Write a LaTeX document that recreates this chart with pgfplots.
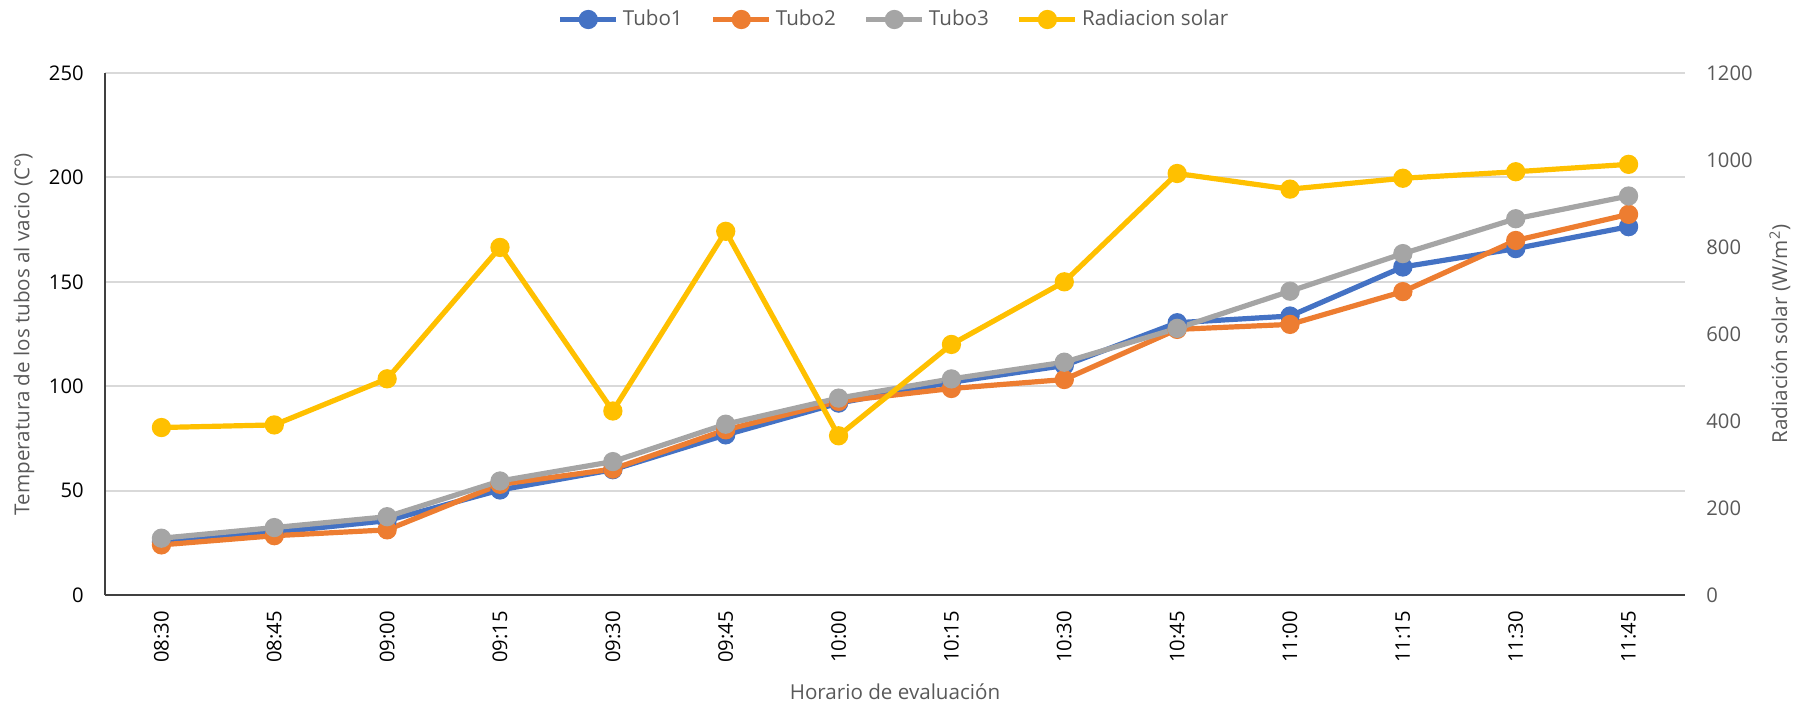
\documentclass[border=0pt]{standalone}
\usepackage{fontspec}
\setmainfont{Open Sans}
\usepackage{pgfplots}
\pgfplotsset{compat=1.18}
\definecolor{c1}{HTML}{4472C4}
\definecolor{c2}{HTML}{ED7D31}
\definecolor{c3}{HTML}{A5A5A5}
\definecolor{c4}{HTML}{FFC000}
\definecolor{gridc}{HTML}{D9D9D9}
\definecolor{txt}{HTML}{595959}
\definecolor{axc}{HTML}{404040}
\newcommand{\fsT}{\fontsize{10.1}{12.2}\selectfont}
\newcommand{\fsL}{\fontsize{10.3}{12.4}\selectfont}
\newcommand{\fsG}{\fontsize{10.3}{12.4}\selectfont}

\begin{document}
\begin{tikzpicture}
\pgfplotsset{
  base/.style={
    scale only axis, width=790pt, height=261pt, at={(0,0)}, anchor=south west,
    xmin=-0.5, xmax=13.5,
    major tick length=0pt,
    /pgf/number format/assume math mode=true,
    /pgf/number format/1000 sep={},
    tick label style={font=\fsT, inner sep=0pt},
    label style={font=\fsL, text=txt},
    every axis plot/.append style={line width=2.6pt, mark=*, mark size=3.5pt},
  },
}
\path[use as bounding box] (-52.5pt,-56pt) rectangle (846.5pt,297.5pt);
\begin{axis}[base,
  ymin=0, ymax=250, ytick={0,50,...,250},
  xtick={0,...,13},
  xticklabels={08:30,08:45,09:00,09:15,09:30,09:45,10:00,10:15,10:30,10:45,11:00,11:15,11:30,11:45},
  xticklabel style={rotate=90, anchor=east},
  xticklabel shift=8pt, yticklabel shift=10.5pt,
  axis x line*=bottom, axis y line*=left,
  axis line style={draw=axc, line width=1pt},
  ymajorgrids, grid style={gridc, line width=1pt},
  xlabel={Horario de evaluación},
  xlabel style={at={(axis description cs:0.5,-0.186)}, anchor=center},
  ylabel={Temperatura de los tubos al vacio (C°)},
  ylabel style={at={(axis description cs:-0.0513,0.5)}, anchor=center, rotate=0},
  legend style={font=\fsG, text=txt, draw=none, fill=none, at={(axis description cs:0.50,1.1025)}, anchor=center, legend columns=4,
    /tikz/every even column/.append style={column sep=12pt}},
  legend image code/.code={\draw[#1, mark repeat=2, mark phase=2] plot coordinates {(0pt,0pt) (14pt,0pt) (28pt,0pt)};},
]
\addplot[c1, mark options={fill=c1}] coordinates {(0,25.5) (1,30) (2,35.6) (3,50.3) (4,60) (5,76.7) (6,91.9) (7,101.9) (8,109.9) (9,130.4) (10,133.6) (11,157.1) (12,165.9) (13,176.4)};
\addplot[c2, mark options={fill=c2}] coordinates {(0,24.0) (1,28.4) (2,31.2) (3,53) (4,60.3) (5,79.1) (6,92.7) (7,98.9) (8,103.2) (9,127.2) (10,129.6) (11,145.3) (12,169.8) (13,182.3)};
\addplot[c3, mark options={fill=c3}] coordinates {(0,27.2) (1,32.3) (2,37.5) (3,54.6) (4,63.9) (5,81.8) (6,94.3) (7,103.5) (8,111.5) (9,127.7) (10,145.5) (11,163.5) (12,180.2) (13,191.1)};
\addlegendimage{c4, line width=2.6pt, mark=*, mark size=3.5pt, mark options={fill=c4}}
\legend{Tubo1, Tubo2, Tubo3, Radiacion solar}
\end{axis}
\begin{axis}[base,
  ymin=0, ymax=1200, ytick={0,200,...,1200},
  axis x line=none, axis y line*=right,
  y axis line style={draw=none},
  yticklabel style={text=txt}, yticklabel shift=10.5pt,
  ylabel={Radiación solar (W/m\textsuperscript{2})},
  ylabel style={at={(axis description cs:1.0600,0.5)}, anchor=center, rotate=0},
]
\addplot[c4, mark options={fill=c4}] coordinates {(0,385) (1,391) (2,497) (3,799) (4,423) (5,836) (6,366) (7,576) (8,720) (9,969) (10,933) (11,958) (12,973) (13,990)};
\end{axis}
\end{tikzpicture}
\end{document}
